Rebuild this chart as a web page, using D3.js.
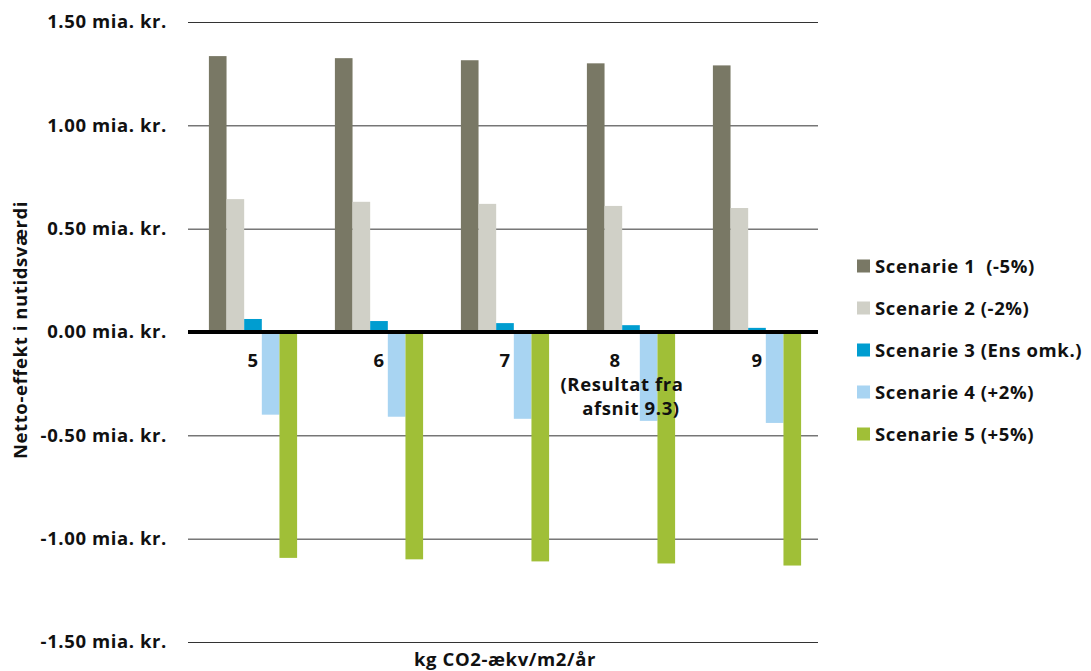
<!DOCTYPE html>
<html>
<head>
<meta charset="utf-8">
<script src="https://cdn.jsdelivr.net/npm/d3@7"></script>
<style>
  body { margin: 0; background: #fff; }
  text { font-family: "Open Sans", sans-serif; font-weight: 700; fill: #111; white-space: pre; letter-spacing: 0.6px; }
</style>
</head>
<body>
<div id="chart"></div>
<script>
// categories (kg CO2-ækv/m2/år)
let categories = ["5", "6", "7", "8", "9"];
let categoryNotes = ["", "", "", "(Resultat fra|afsnit 9.3)", ""];
let seriesNames = ["Scenarie 1  (-5%)", "Scenarie 2 (-2%)", "Scenarie 3 (Ens omk.)", "Scenarie 4 (+2%)", "Scenarie 5 (+5%)"];
let seriesColors = ["#797865", "#d0d0c7", "#009dd0", "#a8d4f2", "#a0bf37"];
let scenarie1 = [1.335, 1.325, 1.315, 1.300, 1.290];
let scenarie2 = [0.643, 0.630, 0.620, 0.610, 0.600];
let scenarie3 = [0.063, 0.053, 0.043, 0.033, 0.020];
let scenarie4 = [-0.400, -0.410, -0.420, -0.430, -0.440];
let scenarie5 = [-1.093, -1.100, -1.110, -1.120, -1.130];
let yTicks = [-1.5, -1.0, -0.5, 0, 0.5, 1.0, 1.5];

let allSeries = [scenarie1, scenarie2, scenarie3, scenarie4, scenarie5];

let width = 1091, height = 671;
let margin = {top: 22, left: 188, right: 273, bottom: 29};
let fs = "18.5px";

let svg = d3.select("#chart").append("svg")
    .attr("width", width)
    .attr("height", height);

let x = d3.scaleBand()
    .domain(categories)
    .range([margin.left + 2, width - margin.right + 2])
    .paddingInner(0.3)
    .paddingOuter(0.15);

let xs = d3.scaleBand()
    .domain(d3.range(seriesNames.length))
    .range([0, x.bandwidth()]);

let y = d3.scaleLinear()
    .domain([-1.5, 1.5])
    .range([height - margin.bottom, margin.top]);

// gridlines + y tick labels
let yAxis = svg.append("g")
    .attr("transform", "translate(" + margin.left + ",0)")
    .call(d3.axisLeft(y)
        .tickValues(yTicks)
        .tickSize(-(width - margin.left - margin.right))
        .tickPadding(21)
        .tickFormat(d => d3.format(".2f")(d).replace("−", "-") + " mia. kr."));
yAxis.select(".domain").remove();
yAxis.selectAll(".tick line").attr("stroke", "#333").attr("stroke-width", 1);
yAxis.selectAll(".tick text")
    .style("font-size", fs)
    .style("font-family", "'Open Sans', sans-serif")
    .style("font-weight", 700)
    .attr("fill", "#111");

// bars
let groups = svg.append("g").selectAll("g")
    .data(categories)
    .join("g")
    .attr("transform", d => "translate(" + x(d) + ",0)");

groups.selectAll("rect")
    .data((d, i) => allSeries.map((s, j) => ({series: j, value: s[i]})))
    .join("rect")
    .attr("x", d => xs(d.series))
    .attr("width", xs.bandwidth())
    .attr("y", d => y(Math.max(0, d.value)))
    .attr("height", d => Math.abs(y(d.value) - y(0)))
    .attr("fill", d => seriesColors[d.series]);

// zero line
svg.append("line")
    .attr("x1", margin.left)
    .attr("x2", width - margin.right)
    .attr("y1", y(0))
    .attr("y2", y(0))
    .attr("stroke", "#000")
    .attr("stroke-width", 4);

// category labels
let noteOffsets = [-16, -9, 0];
let catLabels = svg.append("g").selectAll("text")
    .data(categories)
    .join("text")
    .attr("y", y(0) + 35)
    .attr("text-anchor", "middle")
    .style("font-size", fs);
catLabels.each(function(d, i) {
    let t = d3.select(this);
    let cx = x(d) + x.bandwidth() / 2;
    if (!categoryNotes[i]) {
        t.append("tspan").attr("x", cx).text(d);
        return;
    }
    t.append("tspan").attr("x", cx + noteOffsets[0]).text(d);
    categoryNotes[i].split("|").forEach((line, k) => {
        t.append("tspan").attr("x", cx + noteOffsets[k + 1]).attr("dy", 24).text(line);
    });
});

// axis titles
svg.append("text")
    .attr("x", 505)
    .attr("y", 666)
    .attr("text-anchor", "middle")
    .style("font-size", fs)
    .text("kg CO2-ækv/m2/år");

svg.append("text")
    .attr("transform", "translate(27," + 330 + ") rotate(-90)")
    .attr("text-anchor", "middle")
    .style("font-size", fs)
    .text("Netto-effekt i nutidsværdi");

// legend
let legend = svg.append("g").attr("transform", "translate(857,266)");
let items = legend.selectAll("g")
    .data(seriesNames)
    .join("g")
    .attr("transform", (d, i) => "translate(0," + i * 42 + ")");
items.append("rect")
    .attr("width", 13).attr("height", 13)
    .attr("y", -6.5)
    .attr("fill", (d, i) => seriesColors[i]);
items.append("text")
    .attr("x", 18)
    .attr("dy", "0.36em")
    .style("font-size", fs)
    .text(d => d);
</script>
</body>
</html>
